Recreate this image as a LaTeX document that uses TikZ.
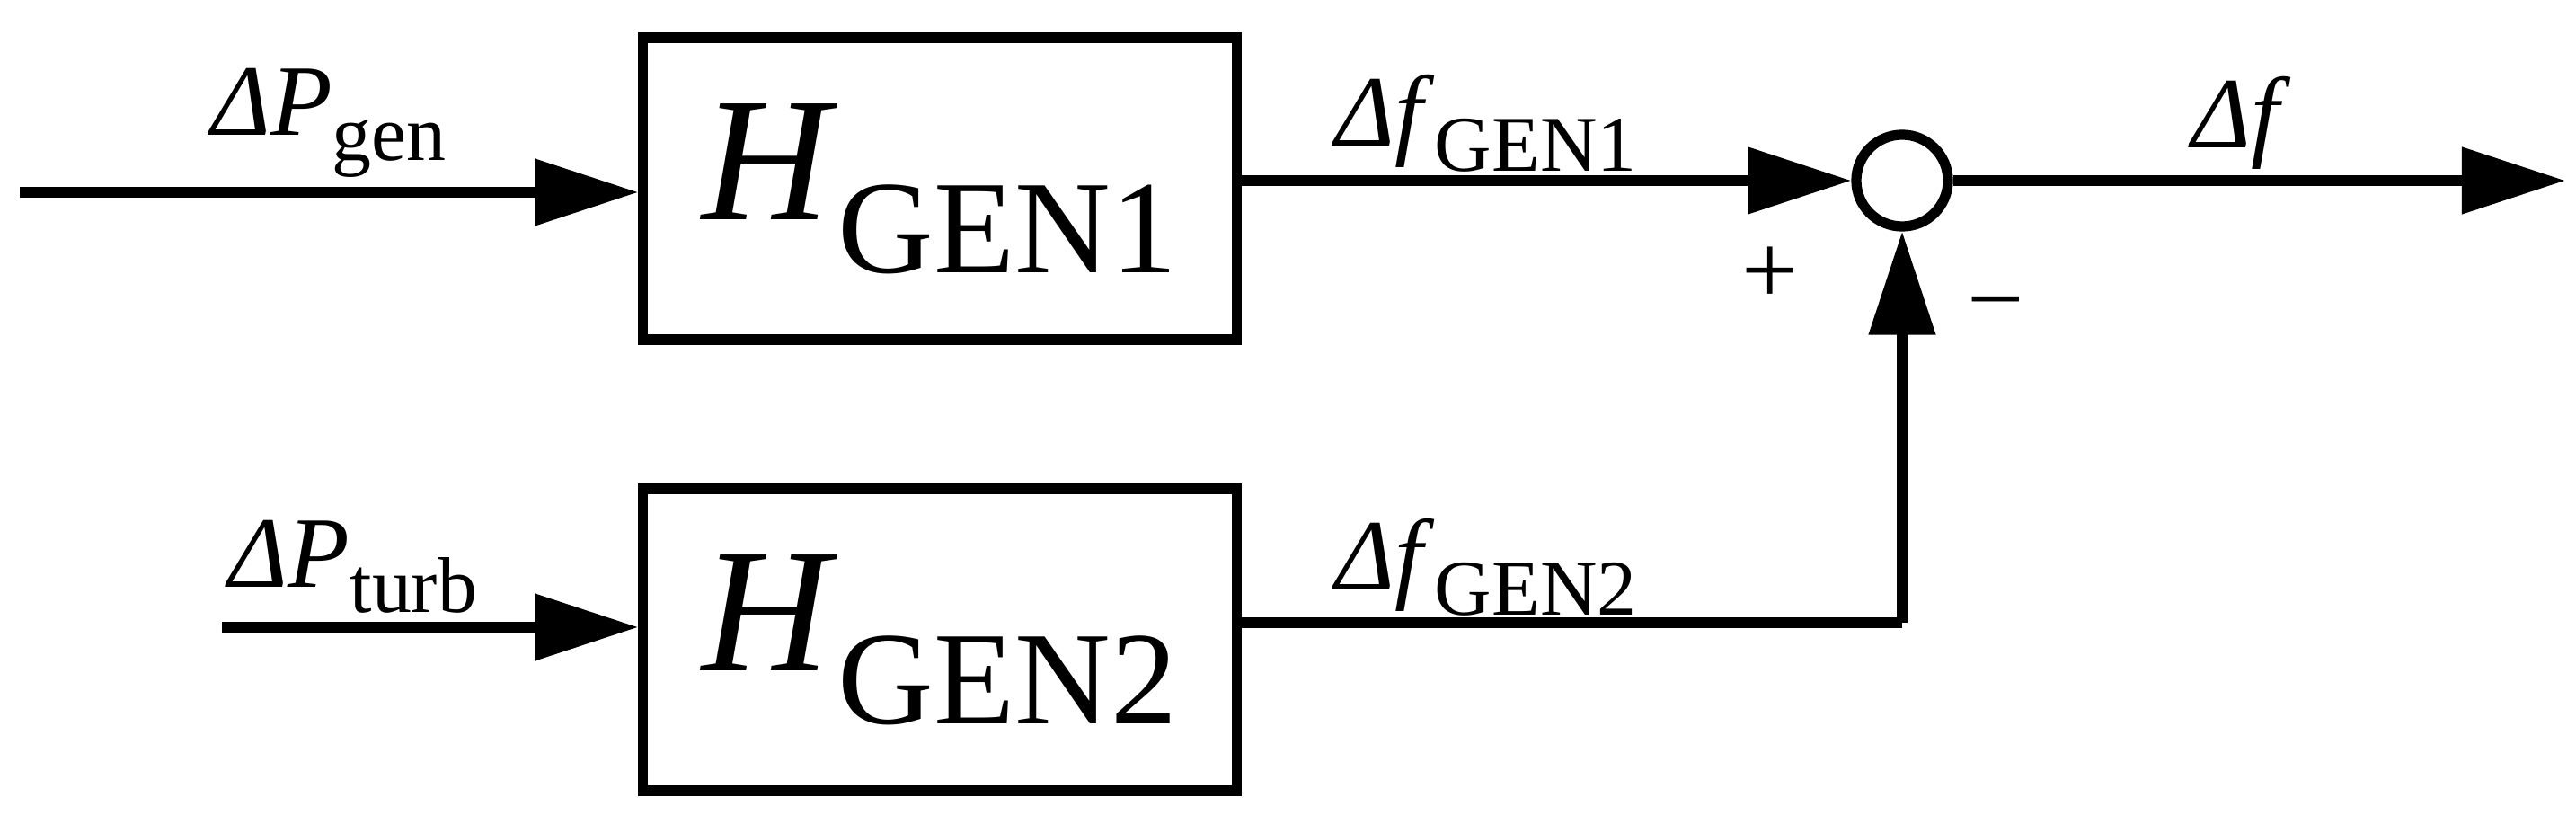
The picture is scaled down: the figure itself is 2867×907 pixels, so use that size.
\documentclass[tikz,border=0pt]{standalone}
\usepackage{fontspec}
\setmainfont{Liberation Serif}
\usetikzlibrary{arrows.meta}
\newcommand\sublbl[2]{\textit{#1}\raisebox{-0.25em}{\fontsize{25}{25}\selectfont #2}}
\newcommand\biglbl[2]{\textit{#1}\raisebox{-0.3em}{\fontsize{42}{42}\selectfont #2}}
\begin{document}
\begin{tikzpicture}[x=0.01cm,y=-0.01cm,
  blk/.style={draw,line width=3.2pt,minimum width=6.6cm,minimum height=3.36cm,inner sep=0pt,font=\fontsize{56}{56}\selectfont},
  sig/.style={line width=3.2pt,-{Triangle[length=1.15cm,width=0.72cm]}},
  wire/.style={line width=3.2pt},
  lbl/.style={font=\fontsize{32}{32}\selectfont,inner sep=0pt}]
\useasboundingbox (0,0) rectangle (2867,907);
\node[blk] (b1) at (1046,210) {\biglbl{H}{GEN1}};
\node[blk] (b2) at (1046,712) {\biglbl{H}{GEN2}};
\node[draw,circle,line width=3.2pt,minimum size=1.02cm,inner sep=0pt] (s) at (2117,201) {};
\coordinate (in1) at (22,214);
\coordinate (in2) at (247,698);
\coordinate (out) at (2855,201);
\draw[sig] (in1) -- (in1 -| b1.west);
\draw[sig] (in2) -- (in2 -| b2.west);
\draw[sig] (b1.east |- s) -- (s.west);
\draw[sig] (s.east) -- (out);
\draw[wire] (b2.east |- 0,693) -- (2117,693) coordinate (c);
\draw[sig] (c) -- (s.south);
\node[lbl] (l1) at (366,137) {\sublbl{ΔP}{gen}};
\node[lbl] (l2) at (393,631) {\sublbl{ΔP}{turb}};
\node[lbl] (l3) at (1654,137) {\sublbl{Δf}{GEN1}};
\node[lbl] (l4) at (1654,631) {\sublbl{Δf}{GEN2}};
\node[lbl] (l5) at (2495,137) {\textit{Δf}};
\node[lbl] (p) at (1970,307) {+};
\node[lbl] (m) at (2221,350) {−};
\end{tikzpicture}
\end{document}
